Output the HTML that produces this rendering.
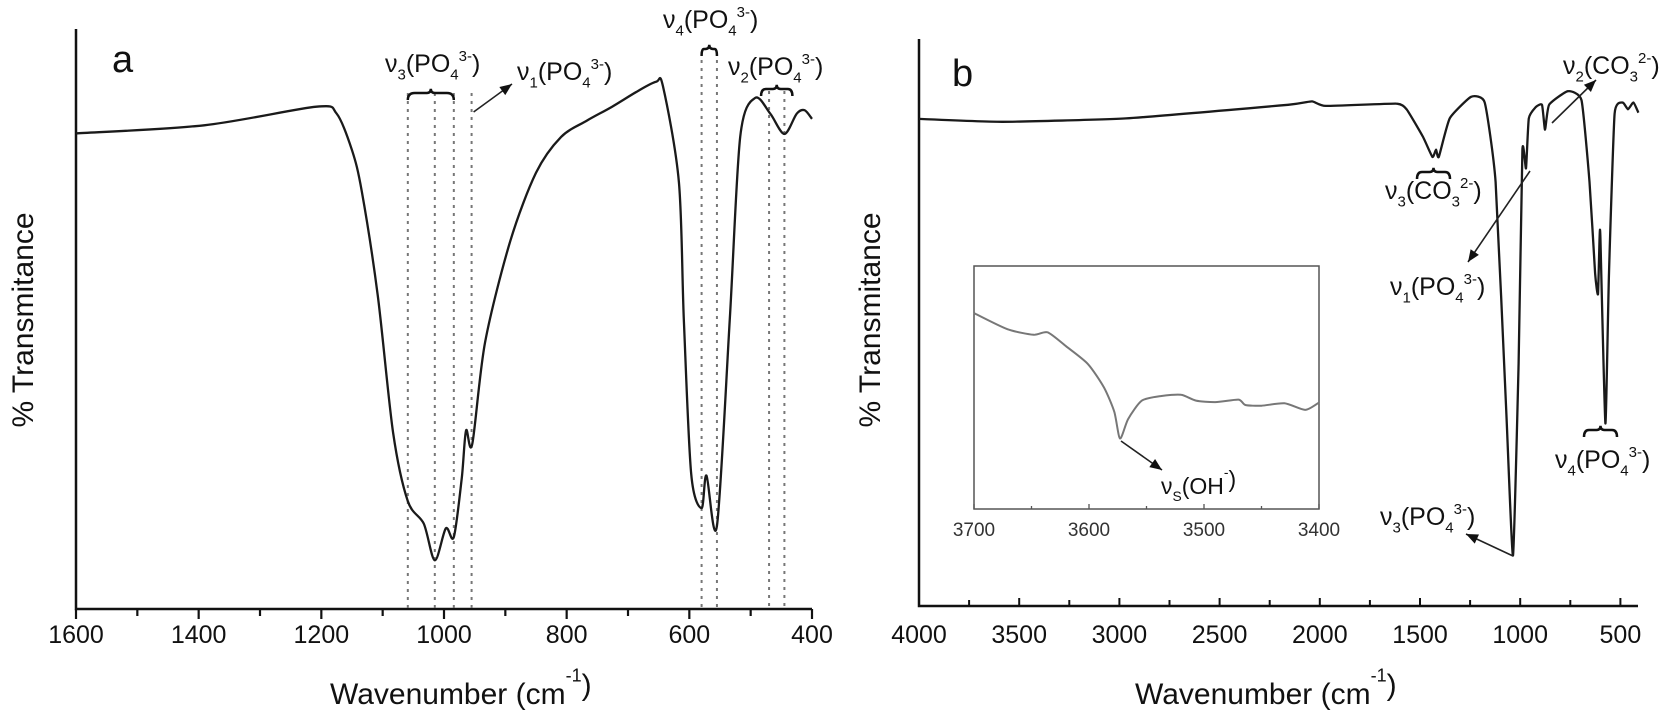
<!DOCTYPE html>
<html><head><meta charset="utf-8"><style>
html,body{margin:0;padding:0;background:#fff;}
svg{display:block;font-family:"Liberation Sans",sans-serif;}
</style></head><body>
<svg id="chart" width="1675" height="714" viewBox="0 0 1675 714" xmlns="http://www.w3.org/2000/svg">
<g id="pa"></g>
<g id="pb"></g>
</svg>
<script>
// Panel a data
const aWave = [1600,1391,1208,1175,1150,1134,1108,1083,1059,1033,1015,997,984,971,964,954,933,892,850,809,767,726,684,654,643,617,609,597,580,572,555,534,517,493,468,445,425,412,400];
const aTrans = [82,83.4,86.6,85.4,79.1,72,54,30.4,18.6,14.7,8.4,13.9,12.4,22.6,30.8,28.4,46,63.4,75.2,81.4,84.2,86.6,89.3,90.9,90.1,73.6,50,23.3,17.4,23,14.3,50,81.4,88.1,85.4,81.9,85.4,86,84.5];
const aTicks = [1600,1400,1200,1000,800,600,400];
const aDashed = [1059,1015,984,955,580,555,470,445];
// Panel b data
const bWave = [4000,3584,2967,2158,2039,1970,1621,1567,1486,1438,1420,1406,1352,1245,1177,1123,1070,1036,1008,989,971,957,922,891,876,856,762,694,654,626,612,604,600,575,557,529,489,462,435,410];
const bTrans = [85.9,85.4,86,88.4,89,88.2,88.6,87.6,82.8,79.2,80.5,79.2,86,89.8,88.8,74.8,34.6,8.9,42.7,80.4,77.2,86,88,88.4,84,88.4,90.8,89.2,74.8,58.7,55,65,65,32.2,58.7,86.8,88.8,87.6,88.8,87];
const bTicks = [4000,3500,3000,2500,2000,1500,1000,500];
// Inset data
const iWave = [3700,3671,3648,3636,3620,3601,3587,3578,3573,3566,3554,3537,3520,3507,3490,3470,3464,3450,3430,3412,3400];
const iTrans = [80.6,74,71.7,72.7,67,59.7,50,40,29,37,44.6,46.5,47,44.6,44,45,42.8,42.5,43.5,40.8,43.8];
const iTicks = [3700,3600,3500,3400];

const NS="http://www.w3.org/2000/svg";
function mk(parent,tag,attrs){const e=document.createElementNS(NS,tag);for(const k in attrs)e.setAttribute(k,attrs[k]);parent.appendChild(e);return e;}
function smooth(pts,k){
  let d='M'+pts[0][0].toFixed(1)+','+pts[0][1].toFixed(1);
  for(let i=0;i<pts.length-1;i++){
    const p0=pts[i-1]||pts[i],p1=pts[i],p2=pts[i+1],p3=pts[i+2]||p2;
    const c1=[p1[0]+(p2[0]-p0[0])*k,p1[1]+(p2[1]-p0[1])*k];
    const c2=[p2[0]-(p3[0]-p1[0])*k,p2[1]-(p3[1]-p1[1])*k];
    d+=` C${c1[0].toFixed(1)},${c1[1].toFixed(1)} ${c2[0].toFixed(1)},${c2[1].toFixed(1)} ${p2[0].toFixed(1)},${p2[1].toFixed(1)}`;
  }
  return d;
}
function label(parent,x,y,parts,size,name){
  const t=mk(parent,'text',{x:x,y:y,'font-size':size,fill:'#111'});
  
  
  parts.forEach(p=>{const s=mk(t,'tspan',{});s.textContent=p[0];
    if(p[1]==='sub'){s.setAttribute('font-size',size*0.6);s.setAttribute('dy',size*0.3);}
    else if(p[1]==='sup'){s.setAttribute('font-size',size*0.6);s.setAttribute('dy',-size*0.75);}
    else if(p[1]==='back'){s.setAttribute('dy',size*0.45);}
    else if(p[1]==='back2'){s.setAttribute('dy',-size*0.3);}
  });
  return t;
}
function ion(parent,x,y,n,ionA,ionB,charge,size,name){
  return label(parent,x,y,[['ν'],[n,'sub'],['(','back2'],[ionA],[ionB,'sub'],[charge,'sup'],[')','back']],size,name);
}
function brace(parent,x1,x2,y,name){
  const m=(x1+x2)/2,h=7;
  const p=mk(parent,'path',{d:`M${x1},${y+h} Q${x1},${y} ${x1+(m-x1)*0.3},${y} L${m-4},${y} Q${m},${y} ${m},${y-h*0.6} Q${m},${y} ${m+4},${y} L${x2-(x2-m)*0.3},${y} Q${x2},${y} ${x2},${y+h}`,fill:'none',stroke:'#111','stroke-width':2.5});
  
  
}
function arrow(parent,x1,y1,x2,y2,name){
  const g=mk(parent,'g',{});
  
  
  mk(g,'line',{x1:x1,y1:y1,x2:x2,y2:y2,stroke:'#222','stroke-width':1.6});
  const a=Math.atan2(y2-y1,x2-x1),L=12,W=5;
  const bx=x2-L*Math.cos(a),by=y2-L*Math.sin(a);
  mk(g,'polygon',{points:`${x2},${y2} ${bx-W*Math.sin(a)},${by+W*Math.cos(a)} ${bx+W*Math.sin(a)},${by-W*Math.cos(a)}`,fill:'#111'});
}

// ---------- Panel a ----------
const pa=document.getElementById('pa');
const aX0=76,aX1=812,aTop=29,aBot=609;
const ax=w=>aX0+(1600-w)*(aX1-aX0)/1200;
const ay=t=>aBot-t*(aBot-aTop)/100;
let e=mk(pa,'path',{d:`M${aX0},${aTop} L${aX0},${aBot} L${aX1},${aBot}`,fill:'none',stroke:'#111','stroke-width':2.5});


for(let w=1600;w>=400;w-=100){
  const tk=mk(pa,'line',{x1:ax(w),y1:aBot,x2:ax(w),y2:aBot+(w%200===0?10:7),stroke:'#111','stroke-width':2.2});
  
  
}
aTicks.forEach(w=>{
  const t=mk(pa,'text',{x:ax(w),y:643,'font-size':25,'text-anchor':'middle',fill:'#111'});
  t.textContent=w;
  
  
});
aDashed.forEach((w,i)=>{
  const top = i<4 ? 93 : (i<6 ? 52 : 91);
  const l=mk(pa,'line',{x1:ax(w),y1:top,x2:ax(w),y2:aBot,stroke:'#777','stroke-width':2,'stroke-dasharray':'3,5'});
  
  
});
e=mk(pa,'path',{d:smooth(aWave.map((w,i)=>[ax(w),ay(aTrans[i])]),0.15),fill:'none',stroke:'#1a1a1a','stroke-width':2.3,'stroke-linejoin':'round'});


e=mk(pa,'text',{x:112,y:72,'font-size':38,fill:'#111'});e.textContent='a';


e=mk(pa,'text',{x:0,y:0,'font-size':30,'text-anchor':'middle',fill:'#111',transform:'translate(33,320) rotate(-90)'});e.textContent='% Transmitance';


label(pa,330,704,[['Wavenumber (cm'],['-1','sup'],[')','back']],30,'x-axis-title-a');
ion(pa,385,72,'3','PO','4','3-',25,'nu3-po4-label-a');
brace(pa,ax(1059),ax(984),93,'nu3-brace-a');
ion(pa,517,80,'1','PO','4','3-',25,'nu1-po4-label-a');
arrow(pa,ax(955)+2,112,512,84,'nu1-arrow-a');
ion(pa,663,28,'4','PO','4','3-',25,'nu4-po4-label-a');
brace(pa,ax(580),ax(555),49,'nu4-brace-a');
ion(pa,728,75,'2','PO','4','3-',25,'nu2-po4-label-a');
brace(pa,ax(470)-8,ax(445)+8,89,'nu2-brace-a');

// ---------- Panel b ----------
const pb=document.getElementById('pb');
const bX0=919,bX1=1638,bTop=39,bBot=606;
const bx=w=>bX0+(4000-w)*100.2/500;
const by=t=>bBot-t*(bBot-bTop)/100;
e=mk(pb,'path',{d:`M${bX0},${bTop} L${bX0},${bBot} L${bX1},${bBot}`,fill:'none',stroke:'#111','stroke-width':2.5});


for(let w=4000;w>=500;w-=250){
  const tk=mk(pb,'line',{x1:bx(w),y1:bBot,x2:bx(w),y2:bBot-(w%500===0?8:6),stroke:'#111','stroke-width':2});
  
  
}
bTicks.forEach(w=>{
  const t=mk(pb,'text',{x:bx(w),y:643,'font-size':25,'text-anchor':'middle',fill:'#111'});
  t.textContent=w;
  
  
});
e=mk(pb,'path',{d:smooth(bWave.map((w,i)=>[bx(w),by(bTrans[i])]),0.08),fill:'none',stroke:'#1a1a1a','stroke-width':2.3,'stroke-linejoin':'round'});


e=mk(pb,'text',{x:952,y:86,'font-size':38,fill:'#111'});e.textContent='b';


e=mk(pb,'text',{x:0,y:0,'font-size':30,'text-anchor':'middle',fill:'#111',transform:'translate(880,320) rotate(-90)'});e.textContent='% Transmitance';


label(pb,1135,704,[['Wavenumber (cm'],['-1','sup'],[')','back']],30,'x-axis-title-b');
ion(pb,1563,74,'2','CO','3','2-',25,'nu2-co3-label-b');
arrow(pb,1552,123,1596,80,'nu2-co3-arrow-b');
ion(pb,1385,199,'3','CO','3','2-',25,'nu3-co3-label-b');
brace(pb,1417,1450,172,'nu3-co3-brace-b');
ion(pb,1390,295,'1','PO','4','3-',25,'nu1-po4-label-b');
arrow(pb,1530,171,1468,262,'nu1-arrow-b');
ion(pb,1555,468,'4','PO','4','3-',25,'nu4-po4-label-b');
brace(pb,1584,1617,430,'nu4-brace-b');
ion(pb,1380,525,'3','PO','4','3-',25,'nu3-po4-label-b');
arrow(pb,1513,556,1466,534,'nu3-arrow-b');

// ---------- Inset ----------
const ig=mk(pb,'g',{});


const iX0=974,iX1=1319,iTop=266,iBot=509;
const ix=w=>iX0+(3700-w)*(iX1-iX0)/300;
const iy=t=>iBot-t*(iBot-iTop)/100;
e=mk(ig,'rect',{x:iX0,y:iTop,width:iX1-iX0,height:iBot-iTop,fill:'#fff',stroke:'#555','stroke-width':1.5});


for(let w=3700;w>=3400;w-=50){
  const tk=mk(ig,'line',{x1:ix(w),y1:iBot,x2:ix(w),y2:iBot-(w%100===0?5:3),stroke:'#555','stroke-width':1.3});
  
  
}
iTicks.forEach(w=>{
  const t=mk(ig,'text',{x:ix(w),y:536,'font-size':19,'text-anchor':'middle',fill:'#333'});
  t.textContent=w;
  
  
});
e=mk(ig,'path',{d:smooth(iWave.map((w,i)=>[ix(w),iy(iTrans[i])]),0.12),fill:'none',stroke:'#777','stroke-width':2});


arrow(ig,1121,441,1162,470,'oh-arrow');
label(ig,1161,494,[['ν'],['S','sub'],['(OH','back2'],['-','sup'],[')','back']],23,'nu-s-oh-label');
</script>
</body></html>
